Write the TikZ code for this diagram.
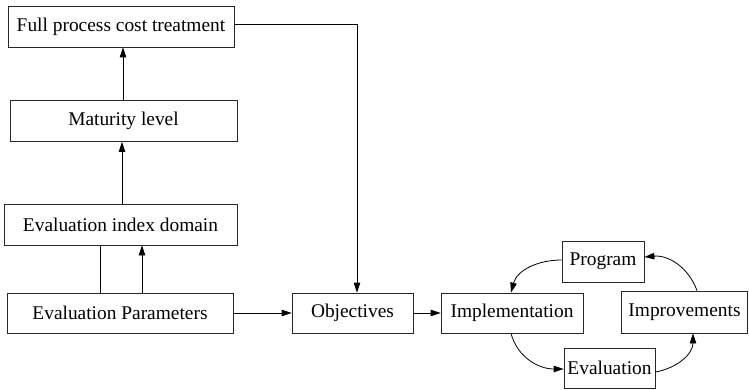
\documentclass[tikz,border=0pt]{standalone}
\usepackage{fontspec}
\setmainfont{Liberation Serif}
\usetikzlibrary{arrows.meta}
\begin{document}
\begin{tikzpicture}[x=1pt,y=-1pt,
  box/.style={draw=black!85, line width=0.8pt, inner sep=0pt, anchor=center, font=\fontsize{19.4}{22}\selectfont},
  conn/.style={line width=0.8pt, -{Triangle[length=10pt,width=6.5pt]}},
  plain/.style={line width=0.8pt}]
\useasboundingbox (0,0) rectangle (749,390);
\node[box, minimum width=226pt, minimum height=41pt] (full) at (121,26.5) {Full process cost treatment};
\node[box, minimum width=227pt, minimum height=41pt] (mat) at (123.5,121) {Maturity level};
\node[box, minimum width=233pt, minimum height=41pt] (eid) at (120.5,224.5) {Evaluation index domain};
\node[box, minimum width=226pt, minimum height=40pt] (ep) at (120,313) {Evaluation Parameters};
\node[box, minimum width=121pt, minimum height=40pt] (obj) at (352.5,313) {Objectives};
\node[box, minimum width=142pt, minimum height=40pt] (impl) at (512,313) {Implementation};
\node[box, minimum width=82pt, minimum height=41pt] (prog) at (603,261.5) {Program};
\node[box, minimum width=126pt, minimum height=42pt] (impr) at (684.5,312) {Improvements};
\node[box, minimum width=91pt, minimum height=40pt] (eval) at (609.5,368) {Evaluation};

\draw[conn] (mat.north -| 123,0) -- (full.south -| 123,0);
\draw[conn] (eid.north -| 122,0) -- (mat.south -| 122,0);
\draw[plain] (ep.north -| 100,0) -- (eid.south -| 100,0);
\draw[conn] (ep.north -| 142,0) -- (eid.south -| 142,0);
\draw[conn] (full.east |- 0,24) -- (357,24) -- (obj.north -| 357,0);
\draw[conn] (ep.east) -- (obj.west);
\draw[conn] (obj.east) -- (impl.west);
\draw[conn] (prog.west |- 0,260) to[out=180,in=75] (impl.north -| 511,0);
\draw[conn] (impr.north -| 697,0) to[out=110,in=5] (prog.east |- 0,257);
\draw[conn] (impl.south -| 511,0) to[out=-75,in=180] (eval.west |- 0,369);
\draw[conn] (eval.east |- 0,372) to[out=10,in=-90] (impr.south -| 693,0);
\end{tikzpicture}
\end{document}
